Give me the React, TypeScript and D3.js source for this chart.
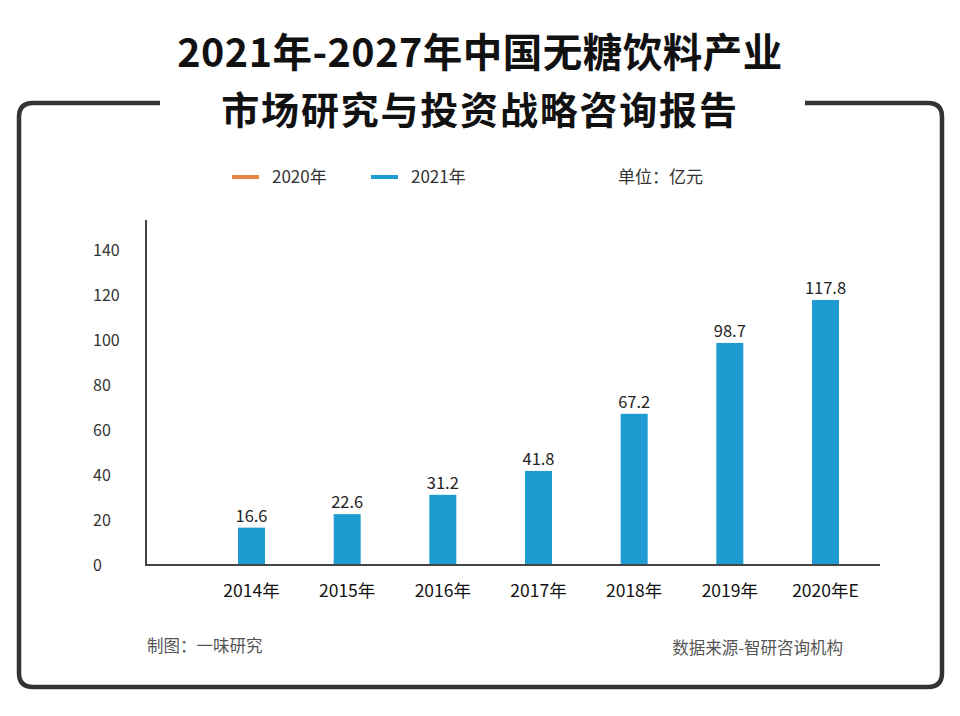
import { useEffect } from 'react';
import * as d3 from 'd3';

const years = ['2014年', '2015年', '2016年', '2017年', '2018年', '2019年', '2020年E'];
const values2021 = [16.6, 22.6, 31.2, 41.8, 67.2, 98.7, 117.8];
const yTicks = [0, 20, 40, 60, 80, 100, 120, 140];
const legendItems = [
  { label: '2020年', color: '#E8843F' },
  { label: '2021年', color: '#1E9BD0' },
];

const W = 960;
const H = 716;
const FONT = '"Noto Sans CJK SC", "Noto Sans", sans-serif';

export default function App() {
  useEffect(() => {
    document.body.style.margin = '0';
  }, []);

  const x = d3.scalePoint<string>().domain(years).range([251.5, 825.5]);
  const y = d3.scaleLinear().domain([0, 140]).range([565, 250]);
  const barW = 27;

  // frame with gap on top for the title
  const r = 14;
  const L = 19, R = 942, T = 103, B = 687;
  const frame = [
    `M 160,${T} L ${L + r},${T} Q ${L},${T} ${L},${T + r}`,
    `L ${L},${B - r} Q ${L},${B} ${L + r},${B}`,
    `L ${R - r},${B} Q ${R},${B} ${R},${B - r}`,
    `L ${R},${T + r} Q ${R},${T} ${R - r},${T} L 805,${T}`,
  ].join(' ');

  return (
    <svg width={W} height={H} style={{ display: 'block', background: '#fff' }} fontFamily={FONT}>
      <text x={480} y={67} textAnchor="middle" fontSize={39.5} fontWeight={700} fill="#111" letterSpacing={0.5}>
        2021年-2027年中国无糖饮料产业
      </text>
      <text x={480} y={124} textAnchor="middle" fontSize={38} fontWeight={700} fill="#111" letterSpacing={1.8}>
        市场研究与投资战略咨询报告
      </text>
      <path d={frame} fill="none" stroke="#333" strokeWidth={4.5} />

      {/* legend */}
      {legendItems.map((d, i) => (
        <g key={d.label} transform={`translate(${232 + i * 139},177)`}>
          <line x1={0} x2={27} y1={0} y2={0} stroke={d.color} strokeWidth={4} />
          <text x={40} y={6} fontSize={17} fill="#333">{d.label}</text>
        </g>
      ))}
      <text x={618} y={183} fontSize={17} fill="#333">单位：亿元</text>

      {/* y axis */}
      <line x1={146} x2={146} y1={220} y2={566} stroke="#444" strokeWidth={2} />
      {yTicks.map((t) => (
        <text key={t} x={93} y={y(t) + 6} fontSize={16} fill="#333">{t}</text>
      ))}

      {/* bars */}
      {years.map((yr, i) => (
        <g key={yr}>
          <rect x={x(yr)! - barW / 2} y={y(values2021[i])} width={barW} height={y(0) - y(values2021[i])} fill="#1E9BD0" />
          <text x={x(yr)} y={y(values2021[i]) - 6} textAnchor="middle" fontSize={16.5} fill="#222">
            {values2021[i]}
          </text>
          <text x={x(yr)} y={597} textAnchor="middle" fontSize={17.5} fill="#111">{yr}</text>
        </g>
      ))}
      <line x1={146} x2={880} y1={565} y2={565} stroke="#444" strokeWidth={2} />

      <text x={147} y={652} fontSize={16.5} fill="#555">制图：一味研究</text>
      <text x={843} y={654} textAnchor="end" fontSize={16.5} fill="#555">数据来源-智研咨询机构</text>
    </svg>
  );
}
